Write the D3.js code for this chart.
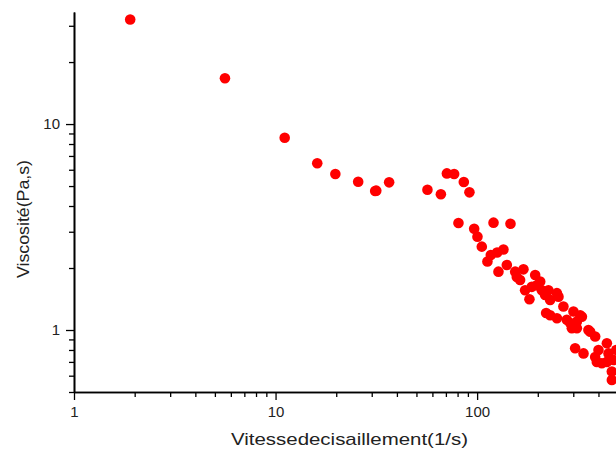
<!DOCTYPE html>
<html>
<head>
<meta charset="utf-8">
<script src="https://cdn.jsdelivr.net/npm/d3@7"></script>
<style>
   body { margin: 0; background: #fff; }
   text { font-family: Arial, "Liberation Sans", sans-serif; }
</style>
</head>
<body>
<svg id="chart"></svg>
<script>
// shear rate (1/s) and viscosity (Pa.s)
const shearRate = [
   1.9, 5.61, 11.1, 16.1, 19.8, 25.7, 31.2, 31.6, 36.6,
   56.7, 66.1, 70.8, 76.9, 85.9, 91.6, 80.8, 96.7, 100.4, 120.6, 146.4,
   105.5, 116.9, 135.1, 112.5, 127.6, 140.4, 154.5, 169.8, 163.4, 157.4,
   194.1, 205.6, 173, 186.8, 181.8, 209.4, 217.5, 220, 225.9, 248.9,
   230.3, 268, 300.6, 324.5, 230.3, 248.9, 278.6, 295.1, 356.6, 385.2,
   289.5, 312.5, 363.9, 306.4, 337.2, 385.2, 400, 440.3, 448.6, 392.6,
   440.3, 466, 466, 475, 125.6, 197.7, 253.4, 331, 312.5, 415.7, 490
];
const viscosity = [
   32.2, 16.7, 8.58, 6.45, 5.72, 5.25, 4.73, 4.75, 5.21,
   4.80, 4.56, 5.76, 5.72, 5.23, 4.66, 3.31, 3.10, 2.84, 3.32, 3.28,
   2.54, 2.31, 2.46, 2.15, 1.92, 2.07, 1.92, 1.97, 1.75, 1.81,
   1.85, 1.72, 1.56, 1.62, 1.41, 1.56, 1.48, 1.21, 1.56, 1.51,
   1.40, 1.30, 1.23, 1.18, 1.18, 1.14, 1.12, 1.02, 1.00, 0.93,
   1.08, 1.02, 0.98, 0.815, 0.77, 0.74, 0.80, 0.862, 0.77, 0.70,
   0.70, 0.628, 0.572, 0.715, 2.38, 1.65, 1.45, 1.16, 1.10, 0.69, 0.80
];
const xMajor = [1, 10, 100];
const yMajor = [1, 10];
const xMinor = [2, 3, 4, 5, 6, 7, 8, 9, 20, 30, 40, 50, 60, 70, 80, 90, 200, 300, 400];
const yMinor = [0.5, 0.6, 0.7, 0.8, 0.9, 2, 3, 4, 5, 6, 7, 8, 9, 20, 30];

let width = 616;
let height = 450;
let margin = {top: 12, right: 0, bottom: 58, left: 74};

let svg = d3.select("#chart")
   .attr("width", width)
   .attr("height", height);

let x = d3.scaleLog()
   .domain([1, 500])
   .range([margin.left, 618]);
let y = d3.scaleLog()
   .domain([0.5, 35])
   .range([height - margin.bottom, margin.top]);

// points
svg.append("g")
   .selectAll("circle")
   .data(shearRate)
   .join("circle")
      .attr("cx", d => x(d))
      .attr("cy", (d, i) => y(viscosity[i]))
      .attr("r", 5.3)
      .attr("fill", "#ff0000");

// bottom axis
let xAxis = svg.append("g")
   .attr("transform", "translate(0," + (height - margin.bottom) + ")");
xAxis.append("g")
   .call(d3.axisBottom(x).tickValues(xMinor).tickFormat("").tickSize(5).tickSizeOuter(0));
xAxis.append("g")
   .call(d3.axisBottom(x).tickValues(xMajor).tickFormat(d3.format("d")).tickSize(8).tickSizeOuter(0));

// left axis
let yAxis = svg.append("g")
   .attr("transform", "translate(" + margin.left + ",0)");
yAxis.append("g")
   .call(d3.axisLeft(y).tickValues(yMinor).tickFormat("").tickSize(5).tickSizeOuter(0));
yAxis.append("g")
   .call(d3.axisLeft(y).tickValues(yMajor).tickFormat(d3.format("d")).tickSize(8).tickSizeOuter(0));

svg.selectAll(".domain").attr("stroke", "#000").attr("stroke-width", 1.6);
svg.selectAll(".tick line").attr("stroke", "#000").attr("stroke-width", 1.3);
svg.selectAll(".tick text")
   .attr("fill", "#222")
   .style("font-size", "15px");
xAxis.selectAll(".tick text").attr("dy", "0.95em");
yAxis.selectAll(".tick text").attr("x", -14);

// axis titles
svg.append("text")
   .attr("x", 349.5)
   .attr("y", 445)
   .attr("textLength", 237)
   .attr("lengthAdjust", "spacingAndGlyphs")
   .style("text-anchor", "middle")
   .style("font-size", "17px")
   .attr("fill", "#222")
   .text("Vitessedecisaillement(1/s)");

svg.append("text")
   .attr("transform", "rotate(-90,29,219)")
   .attr("x", 29)
   .attr("y", 219)
   .attr("textLength", 118)
   .attr("lengthAdjust", "spacingAndGlyphs")
   .style("text-anchor", "middle")
   .style("font-size", "16px")
   .attr("fill", "#222")
   .text("Viscosité(Pa,s)");
</script>
</body>
</html>
